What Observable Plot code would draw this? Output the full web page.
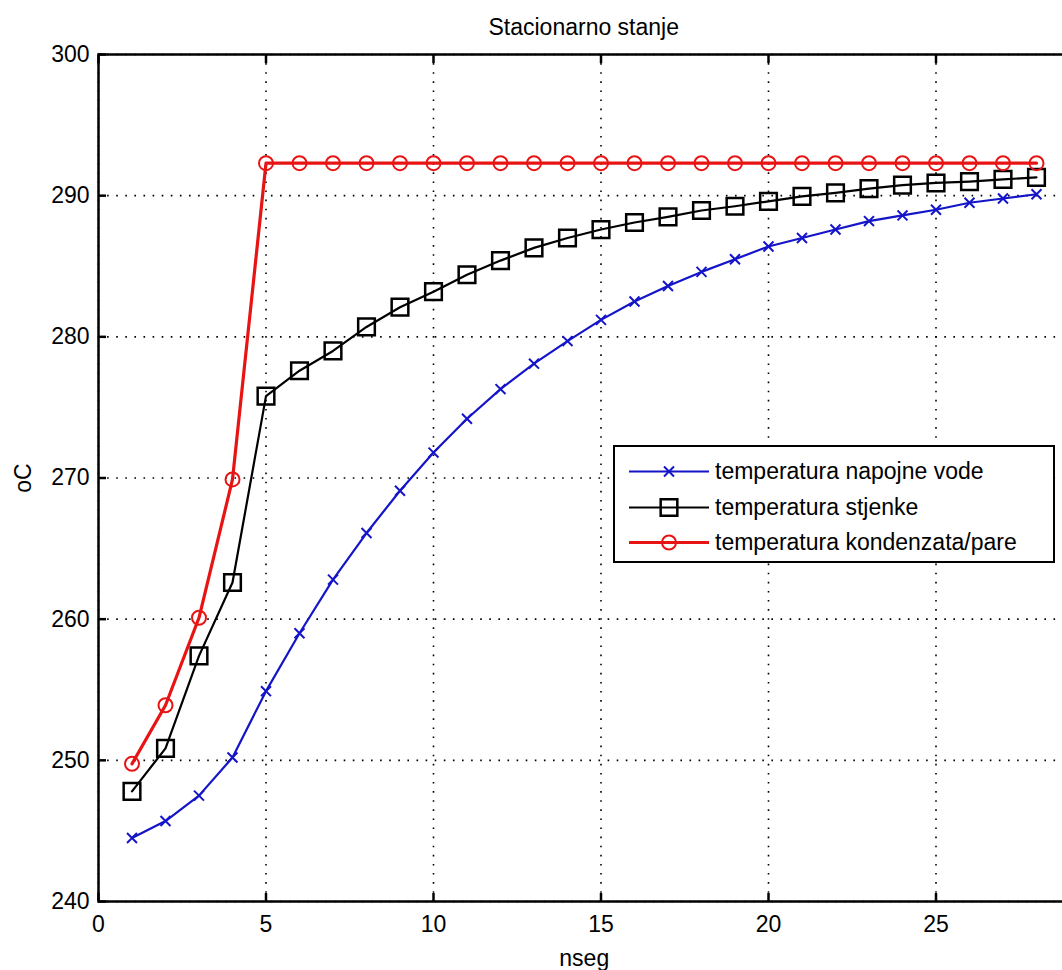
<!DOCTYPE html>
<html><head><meta charset="utf-8">
<script src="https://cdn.jsdelivr.net/npm/d3@7"></script>
<script src="https://cdn.jsdelivr.net/npm/@observablehq/plot@0.6"></script>
<style>
html,body{margin:0;padding:0;background:#fff;overflow:hidden;width:1062px;height:970px}
#wrap{position:relative;width:1080px;font-family:"Liberation Sans",Arial,sans-serif;color:#000}
#title{height:40px;box-sizing:border-box;padding:16px 10.5px 0 98px;text-align:center;font-size:23px;line-height:23px}
#legend{position:absolute;left:613px;top:445px;width:442px;height:118px;border:2px solid #000;background:#fff;box-sizing:border-box;padding-top:7px}
.row{height:35.5px;display:flex;align-items:center;font-size:23px;white-space:nowrap}
.row svg{margin-left:14px;margin-right:6px;flex:none}
</style></head>
<body><div id="wrap"><div id="title">Stacionarno stanje</div><div id="chart"></div><div id="legend"></div></div>
<script>
const nseg = [1,2,3,4,5,6,7,8,9,10,11,12,13,14,15,16,17,18,19,20,21,22,23,24,25,26,27,28];
const tempVode = [244.5,245.7,247.5,250.2,254.9,259.0,262.8,266.1,269.1,271.8,274.2,276.3,278.1,279.7,281.2,282.5,283.6,284.6,285.5,286.4,287.0,287.6,288.2,288.6,289.0,289.5,289.8,290.1];
const tempStjenke = [247.8,250.85,257.4,262.6,275.8,277.6,279.0,280.7,282.1,283.2,284.4,285.4,286.3,287.0,287.6,288.1,288.5,288.95,289.25,289.6,289.95,290.2,290.5,290.75,290.9,291.0,291.15,291.3];
const tempKond = [249.75,253.9,260.1,269.9,292.3,292.3,292.3,292.3,292.3,292.3,292.3,292.3,292.3,292.3,292.3,292.3,292.3,292.3,292.3,292.3,292.3,292.3,292.3,292.3,292.3,292.3,292.3,292.3];
const seriesNames = ["temperatura napojne vode","temperatura stjenke","temperatura kondenzata/pare"];
const seriesColors = ["#1414c8","#000000","#e81414"];
const seriesSymbols = ["times","square","circle"];
const xTicks = [0,5,10,15,20,25];
const yTicks = [240,250,260,270,280,290,300];

const seriesValues = [tempVode, tempStjenke, tempKond];
const lineWidths = [2.2, 2.2, 3.2];
const symbolR = [4.6, 9.4, 7];
const symbolW = [2, 2.5, 2];

const marks = [
  Plot.gridX(xTicks, {stroke:"#000", strokeOpacity:1, strokeWidth:1.6, strokeDasharray:"1.6,7.5"}),
  Plot.gridY(yTicks, {stroke:"#000", strokeOpacity:1, strokeWidth:1.6, strokeDasharray:"1.6,7.5"})
];
seriesValues.forEach((vals, i) => {
  const rows = nseg.map((n, j) => ({n, v: vals[j]}));
  marks.push(Plot.line(rows, {x:"n", y:"v", stroke: seriesColors[i], strokeWidth: lineWidths[i]}));
  marks.push(Plot.dot(rows, {x:"n", y:"v", stroke: seriesColors[i], fill:"none", symbol: seriesSymbols[i], r: symbolR[i], strokeWidth: symbolW[i]}));
});
marks.push(
  Plot.frame({stroke:"#000", strokeWidth:2.5}),
  Plot.axisX(xTicks, {anchor:"bottom", tickSize:-8, tickPadding:22, strokeWidth:2.5, label:"nseg", labelAnchor:"center", labelOffset:64, labelArrow:"none"}),
  Plot.axisX(xTicks, {anchor:"top", tickSize:-8, strokeWidth:2.5, tickFormat:() => "", label:null}),
  Plot.axisY(yTicks, {anchor:"left", tickSize:-8, tickPadding:17, strokeWidth:2.5, label:"oC", labelAnchor:"center", labelOffset:84, labelArrow:"none"}),
  Plot.axisY(yTicks, {anchor:"right", tickSize:-8, strokeWidth:2.5, tickFormat:() => "", label:null})
);

const chart = Plot.plot({
  width: 1080, height: 930,
  marginLeft: 98, marginRight: 10.5, marginTop: 14, marginBottom: 69,
  style: {fontFamily: "'Liberation Sans', Arial, sans-serif", fontSize: "23px", color: "#000", background: "#fff"},
  x: {domain: [0, 29]},
  y: {domain: [240, 300]},
  marks
});
document.getElementById("chart").appendChild(chart);

const legend = document.getElementById("legend");
seriesNames.forEach((name, i) => {
  const row = document.createElement("div");
  row.className = "row";
  const sym = d3.symbol(d3["symbol" + seriesSymbols[i][0].toUpperCase() + seriesSymbols[i].slice(1)], Math.PI * symbolR[i] * symbolR[i])();
  row.innerHTML = `<svg width="80" height="35" viewBox="0 0 80 35"><line x1="0" x2="80" y1="17.5" y2="17.5" stroke="${seriesColors[i]}" stroke-width="${lineWidths[i]}"/><path transform="translate(40,17.5)" d="${sym}" fill="none" stroke="${seriesColors[i]}" stroke-width="${symbolW[i]}"/></svg><span>${name}</span>`;
  legend.appendChild(row);
});
</script></body></html>
